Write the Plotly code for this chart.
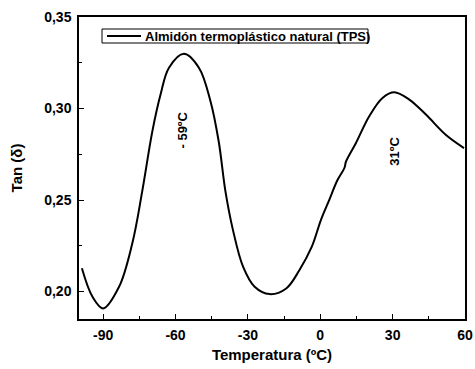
import plotly.graph_objects as go

# Data
temperature = [-98.8, -94.4, -90, -83.4, -77.9, -73.8, -69.6, -66.2, -62.7, -56.5,
               -50.3, -45.5, -42.1, -39.3, -36.2, -32, -27.2, -21, -14.1, -8.6,
               -3.5, 0.3, 3.7, 7, 10, 10.7, 14.8, 20.3, 25.8, 30.7, 36.9, 43.8, 52, 59.6]
tan_delta = [0.2127, 0.1971, 0.1908, 0.2026, 0.2264, 0.2547, 0.2875, 0.3076, 0.3223, 0.3299,
             0.3223, 0.3040, 0.2821, 0.2547, 0.2337, 0.2136, 0.2026, 0.1986, 0.2017, 0.2118,
             0.2245, 0.2392, 0.2500, 0.2605, 0.2675, 0.2711, 0.2812, 0.2958, 0.3058, 0.3089,
             0.3049, 0.2967, 0.2857, 0.2784]
series_name = "Almidón termoplástico natural (TPS)"

x_tickvals = [-90, -60, -30, 0, 30, 60]
x_ticktext = ["-90", "-60", "-30", "0", "30", "60"]
y_tickvals = [0.20, 0.25, 0.30, 0.35]
y_ticktext = ["0,20", "0,25", "0,30", "0,35"]

peak_labels = ["- 59ºC", "31ºC"]
peak_x = [-56.9, 30.7]
peak_y = [0.2885, 0.2766]

FONT = "Arial, Liberation Sans, sans-serif"

fig = go.Figure()
fig.add_trace(go.Scatter(
    x=temperature, y=tan_delta, mode="lines", name=series_name,
    line=dict(color="black", width=2, shape="spline", smoothing=1.0),
    showlegend=False,
))

for t, px, py in zip(peak_labels, peak_x, peak_y):
    fig.add_annotation(x=px, y=py, text="<b>%s</b>" % t, showarrow=False,
                       textangle=-90, font=dict(family=FONT, size=13, color="black"))

# Legend box (drawn in paper coordinates)
L, R, T, B = 79, 465, 17, 319
def pxp(v):
    return (v - L) / (R - L)
def pyp(v):
    return 1 - (v - T) / (B - T)

fig.add_shape(type="rect", xref="paper", yref="paper",
              x0=pxp(102), x1=pxp(368), y0=pyp(43), y1=pyp(29),
              line=dict(color="black", width=1), fillcolor="white", layer="above")
fig.add_shape(type="line", xref="paper", yref="paper",
              x0=pxp(107), x1=pxp(141), y0=pyp(36), y1=pyp(36),
              line=dict(color="black", width=2), layer="above")
fig.add_annotation(xref="paper", yref="paper", x=pxp(142.5), y=pyp(36.5),
                   xanchor="left", yanchor="middle", showarrow=False,
                   text="<b>%s</b>" % series_name,
                   font=dict(family=FONT, size=13, color="black"))

axis_common = dict(
    showline=True, linecolor="black", linewidth=1.5, mirror=True,
    ticks="inside", tickcolor="black", ticklen=5, tickwidth=1,
    showgrid=False, zeroline=False, automargin=False,
    tickfont=dict(family=FONT, size=14, color="black", weight="bold"),
    ticklabeloverflow="allow",
)

fig.update_xaxes(
    range=[-100, 60], tickvals=x_tickvals,
    ticktext=["<b>%s</b>" % t for t in x_ticktext],
    minor=dict(ticks="inside", ticklen=3, tickcolor="black", dtick=15, tick0=-90, showgrid=False),
    title=dict(text="<b>Temperatura (ºC)</b>", font=dict(family=FONT, size=15, color="black"), standoff=8),
    ticklabelstandoff=2,
    **axis_common,
)
fig.update_yaxes(
    range=[0.185, 0.35], tickvals=y_tickvals,
    ticktext=["<b>%s</b>" % t for t in y_ticktext],
    minor=dict(ticks="inside", ticklen=3, tickcolor="black", dtick=0.025, tick0=0.2, showgrid=False),
    title=dict(text="<b>Tan (δ)</b>", font=dict(family=FONT, size=15, color="black"), standoff=18),
    ticklabelstandoff=3,
    **axis_common,
)

fig.update_layout(
    width=475, height=369,
    margin=dict(l=79, r=10, t=17, b=50),
    paper_bgcolor="white", plot_bgcolor="white",
)

fig.write_html(
    "out.html",
    config={"displayModeBar": False},
    post_script="document.body.style.margin='0px'; document.body.style.overflow='hidden';",
)
